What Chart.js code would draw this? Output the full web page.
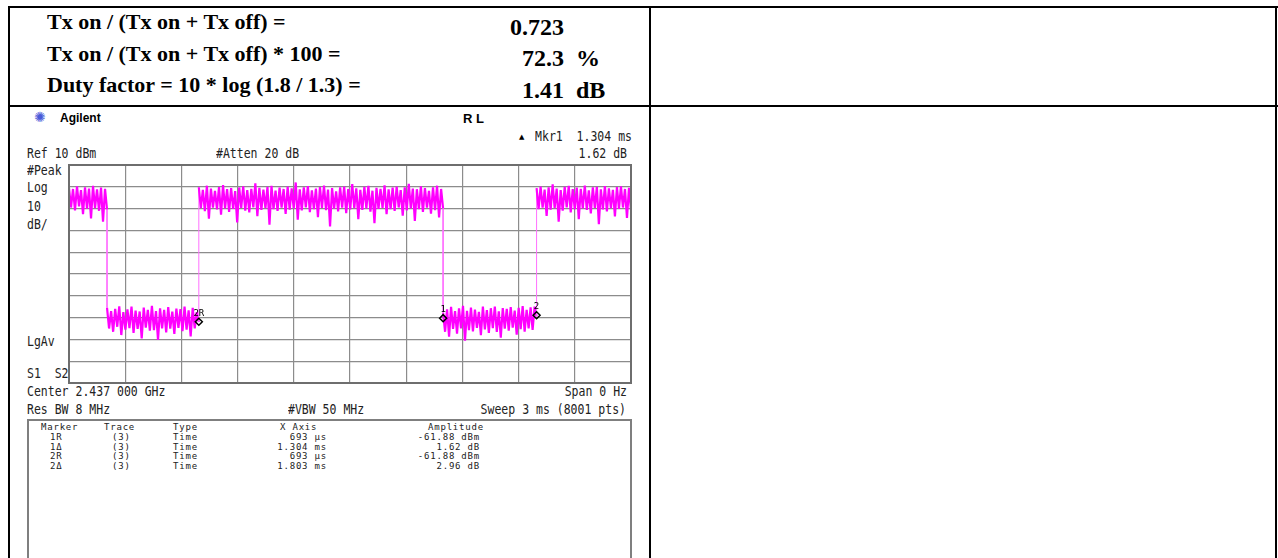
<!DOCTYPE html>
<html>
<head>
<meta charset="utf-8">
<script src="https://cdn.jsdelivr.net/npm/chart.js@4"></script>
<style>
html, body { margin: 0; padding: 0; background: #fff; width: 1278px; height: 558px; overflow: hidden; position: relative; }
.ln { position: absolute; background: #000; }
.gl { position: absolute; background: #7f7f7f; }
.t { position: absolute; white-space: pre; line-height: 1; }
.doc { font-family: "Liberation Serif", "Times New Roman", serif; font-weight: bold; font-size: 22px; color: #000; }
.val { font-family: "Liberation Serif", "Times New Roman", serif; font-weight: bold; font-size: 24px; color: #000; }
.sa { font-family: "DejaVu Sans Mono", monospace; font-size: 11.5px; color: #222; transform: scaleY(1.18); }
.mk { font-family: "DejaVu Sans Mono", monospace; font-size: 9px; letter-spacing: 0.8px; color: #222; }
#trace { position: absolute; left: 67px; top: 163px; }
</style>
</head>
<body>
<!-- document table lines -->
<div class="ln" style="left:8px;top:6px;width:1270px;height:2px"></div>
<div class="ln" style="left:8px;top:105px;width:1270px;height:2px"></div>
<div class="ln" style="left:8px;top:6px;width:2px;height:552px"></div>
<div class="ln" style="left:649px;top:6px;width:2px;height:552px"></div>
<div class="ln" style="left:1275px;top:6px;width:2px;height:552px"></div>

<div class="t doc" style="left:47px;top:11px">Tx on / (Tx on + Tx off) =</div>
<div class="t doc" style="left:47px;top:43px">Tx on / (Tx on + Tx off) * 100 =</div>
<div class="t doc" style="left:47px;top:74px">Duty factor = 10 * log (1.8 / 1.3) =</div>
<div class="t val" style="left:510px;top:15px">0.723</div>
<div class="t val" style="left:522px;top:46px">72.3  %</div>
<div class="t val" style="left:522px;top:78px">1.41  dB</div>

<!-- analyzer screen header -->
<div class="t" style="left:34px;top:110px;font-family:'DejaVu Sans';font-size:14px;color:#4a5ad8">✺</div>
<div class="t" style="left:60px;top:112px;font-family:'Liberation Sans',Arial,sans-serif;font-weight:bold;font-size:12px;color:#000">Agilent</div>
<div class="t" style="left:463px;top:111.5px;font-family:'Liberation Sans',Arial,sans-serif;font-weight:bold;font-size:13px;color:#000">R L</div>
<div class="t" style="left:519px;top:134px;font-family:'DejaVu Sans';font-size:7px;color:#000">▲</div>
<div class="t sa" style="right:646px;top:131px">Mkr1  1.304 ms</div>
<div class="t sa" style="left:27px;top:148px">Ref 10 dBm</div>
<div class="t sa" style="left:216px;top:148px">#Atten 20 dB</div>
<div class="t sa" style="right:651px;top:148px">1.62 dB</div>
<div class="t sa" style="left:27px;top:165px">#Peak</div>
<div class="t sa" style="left:27px;top:182px">Log</div>
<div class="t sa" style="left:27px;top:201px">10</div>
<div class="t sa" style="left:27px;top:219px">dB/</div>
<div class="t sa" style="left:27px;top:336px">LgAv</div>
<div class="t sa" style="left:27px;top:368px">S1  S2</div>
<div class="t sa" style="left:27px;top:386px">Center 2.437 000 GHz</div>
<div class="t sa" style="right:651px;top:386px">Span 0 Hz</div>
<div class="t sa" style="left:27px;top:404px">Res BW 8 MHz</div>
<div class="t sa" style="left:288px;top:404px">#VBW 50 MHz</div>
<div class="t sa" style="right:652px;top:404px">Sweep 3 ms (8001 pts)</div>

<!-- marker table box -->
<div class="gl" style="left:27px;top:419px;width:605px;height:2px"></div>
<div class="gl" style="left:27px;top:419px;width:2px;height:139px"></div>
<div class="gl" style="left:630px;top:419px;width:2px;height:139px"></div>

<div class="t mk" style="left:41px;top:423px">Marker</div>
<div class="t mk" style="left:104px;top:423px">Trace</div>
<div class="t mk" style="left:173px;top:423px">Type</div>
<div class="t mk" style="left:280px;top:423px">X Axis</div>
<div class="t mk" style="left:428px;top:423px">Amplitude</div>

<div class="t mk" style="left:50px;top:433px">1R</div>
<div class="t mk" style="left:112px;top:433px">(3)</div>
<div class="t mk" style="left:173px;top:433px">Time</div>
<div class="t mk" style="right:951px;top:433px">693 µs</div>
<div class="t mk" style="right:798px;top:433px">-61.88 dBm</div>

<div class="t mk" style="left:50px;top:442.5px">1Δ</div>
<div class="t mk" style="left:112px;top:442.5px">(3)</div>
<div class="t mk" style="left:173px;top:442.5px">Time</div>
<div class="t mk" style="right:951px;top:442.5px">1.304 ms</div>
<div class="t mk" style="right:798px;top:442.5px">1.62 dB</div>

<div class="t mk" style="left:50px;top:452px">2R</div>
<div class="t mk" style="left:112px;top:452px">(3)</div>
<div class="t mk" style="left:173px;top:452px">Time</div>
<div class="t mk" style="right:951px;top:452px">693 µs</div>
<div class="t mk" style="right:798px;top:452px">-61.88 dBm</div>

<div class="t mk" style="left:50px;top:461.5px">2Δ</div>
<div class="t mk" style="left:112px;top:461.5px">(3)</div>
<div class="t mk" style="left:173px;top:461.5px">Time</div>
<div class="t mk" style="right:951px;top:461.5px">1.803 ms</div>
<div class="t mk" style="right:798px;top:461.5px">2.96 dB</div>

<canvas id="trace" width="566" height="222"></canvas>

<script>
// sweep time in microseconds, level in dBm
const sweepEdges = [0, 203, 693, 1997, 2496, 3000];

// peak / pit readings of the noisy trace, one pair per few pixels
const peakOn1 = [-0.5, -1.0, 0.2, -1.5, -0.2, -0.8, 0.4, -1.2, -0.4, -0.9];
const pitOn1 = [-9.5, -10.8, -9.0, -12.5, -10.0, -14.5, -9.8, -11.0, -16.0, -10.5];

const peakOff1 = [-55.5, -57.0, -56.0, -54.8, -57.5, -56.2, -55.0, -56.8, -57.2, -55.4, -56.5, -54.6,
	-57.0, -55.8, -56.4, -55.2, -57.3, -55.9, -56.1, -54.9, -56.7, -55.5, -57.5];
const pitOff1 = [-65.0, -66.5, -64.2, -68.0, -65.5, -64.8, -67.0, -65.2, -69.5, -64.6, -66.0, -65.8,
	-70.2, -64.9, -66.8, -65.1, -67.5, -64.7, -66.2, -65.5, -68.6, -64.9, -62.0];

const peakOn2 = [-0.2, -1.4, 0.5, -0.8, -1.9, -0.1, 0.8, -1.1, -0.6, -2.0,
	-0.3, 0.2, -1.5, -0.9, 1.6, -0.5, -1.3, 0.0, 0.4, -1.7,
	-0.4, -1.0, 0.1, -0.7, 2.0, -1.2, -0.3, 0.3, -1.6, -0.8,
	-0.1, 0.6, -1.3, -0.6, -2.1, -0.2, 0.1, -1.0, 1.2, -0.7,
	-1.4, 0.0, 0.4, -1.8, -0.5, -0.9, 0.7, -1.2, -0.4, 0.1,
	-1.5, -0.2, 1.4, -0.8, -1.1, 0.2, -0.6, -1.9, -0.3, 0.5, -1.0];
const pitOn2 = [-9.8, -11.2, -14.6, -9.5, -10.4, -12.8, -9.9, -11.5, -10.1, -16.3,
	-9.7, -10.9, -11.8, -9.4, -13.5, -10.6, -9.8, -17.4, -10.2, -11.0,
	-9.6, -12.4, -10.5, -9.9, -15.1, -10.8, -9.5, -11.6, -10.3, -13.9,
	-9.7, -10.7, -18.2, -10.0, -11.3, -9.6, -12.1, -10.4, -9.8, -14.8,
	-10.6, -9.9, -11.4, -16.7, -10.1, -9.7, -12.6, -10.3, -11.1, -9.5,
	-13.2, -10.8, -9.9, -15.6, -10.2, -11.5, -9.6, -12.3, -10.7, -14.1, -10.0];

const peakOff2 = [-58.0, -56.2, -55.1, -57.0, -55.8, -54.6, -56.9, -55.4, -56.3, -57.4, -55.0, -56.6,
	-55.7, -54.9, -57.1, -55.6, -56.0, -55.2, -56.8, -55.5, -54.7, -56.4, -55.3, -55.0];
const pitOff2 = [-66.5, -68.8, -65.2, -67.4, -64.9, -70.6, -65.8, -66.3, -64.7, -68.1, -65.4, -67.0,
	-64.8, -66.6, -69.2, -65.1, -66.0, -64.6, -67.8, -65.3, -66.4, -64.9, -65.7, -59.5];

const peakOn3 = [-0.6, 0.1, -1.3, -0.2, 1.1, -0.8, -1.5, 0.0, 0.4, -1.1, -0.4, -0.9,
	0.6, -1.6, -0.3, 0.0, -1.2, 0.3, -0.7, -1.4, -0.1, 0.2, -1.0, -0.5];
const pitOn3 = [-10.2, -9.6, -13.4, -10.5, -9.8, -16.0, -10.9, -9.5, -11.7, -10.3, -14.8, -9.9,
	-10.6, -12.2, -9.7, -17.1, -10.4, -11.3, -9.8, -13.6, -10.1, -9.5, -14.3, -10.6];

const segPeaks = [peakOn1, peakOff1, peakOn2, peakOff2, peakOn3];
const segPits = [pitOn1, pitOff1, pitOn2, pitOff2, pitOn3];

// markers
const markerTimes = [693, 1997, 2496];
const markerLevels = [-61.88, -60.26, -58.92];
const markerNames = ["2R", "1", "2"];

const trace = [];
segPeaks.forEach((peaks, s) => {
	const t0 = sweepEdges[s];
	const t1 = sweepEdges[s + 1];
	const n = peaks.length * 2 - 1;
	peaks.forEach((p, k) => {
		trace.push({ x: t0 + ((t1 - t0) * (2 * k)) / n, y: p });
		trace.push({ x: t0 + ((t1 - t0) * (2 * k + 1)) / n, y: segPits[s][k] });
	});
});
const markers = markerTimes.map((t, i) => ({ x: t, y: markerLevels[i] }));

const markerLabels = {
	id: "markerLabels",
	afterDatasetsDraw(chart) {
		const ctx = chart.ctx;
		const meta = chart.getDatasetMeta(0);
		ctx.save();
		ctx.font = "9px 'DejaVu Sans Mono', monospace";
		ctx.fillStyle = "#000";
		ctx.textAlign = "center";
		ctx.textBaseline = "bottom";
		meta.data.forEach((pt, i) => {
			ctx.fillText(markerNames[i], pt.x, pt.y - 4);
		});
		ctx.restore();
	},
};

const frame = {
	id: "frame",
	afterDraw(chart) {
		const a = chart.chartArea;
		const ctx = chart.ctx;
		ctx.save();
		ctx.strokeStyle = "#6e6e6e";
		ctx.lineWidth = 2;
		ctx.strokeRect(a.left, a.top, a.right - a.left, a.bottom - a.top);
		ctx.restore();
	},
};

const gridStyle = { color: "#8c8c8c", lineWidth: 1.2, drawTicks: false };
const isEdge = (c) => c.p0.parsed.x === c.p1.parsed.x;

new Chart(document.getElementById("trace"), {
	type: "line",
	data: {
		datasets: [
			{
				type: "scatter",
				data: markers,
				pointStyle: "rectRot",
				pointRadius: 3.5,
				borderColor: "#000",
				borderWidth: 1.5,
				backgroundColor: "rgba(0,0,0,0)",
			},
			{
				data: trace,
				borderColor: "#ff00ff",
				borderWidth: 2.2,
				borderJoinStyle: "bevel",
				pointRadius: 0,
				tension: 0,
				segment: {
					borderColor: (c) => (isEdge(c) ? "#ff70ff" : undefined),
					borderWidth: (c) => (isEdge(c) ? 1 : undefined),
				},
			},
		],
	},
	options: {
		responsive: false,
		animation: false,
		layout: { padding: 2, autoPadding: false },
		plugins: {
			legend: { display: false },
			tooltip: { enabled: false },
		},
		scales: {
			x: {
				type: "linear",
				min: 0,
				max: 3000,
				ticks: { display: false, stepSize: 300 },
				grid: gridStyle,
				border: { display: false },
				afterFit: (s) => {
					s.height = 0;
				},
			},
			y: {
				min: -90,
				max: 10,
				ticks: { display: false, stepSize: 10 },
				grid: gridStyle,
				border: { display: false },
				afterFit: (s) => {
					s.width = 0;
				},
			},
		},
	},
	plugins: [markerLabels, frame],
});
</script>
</body>
</html>
